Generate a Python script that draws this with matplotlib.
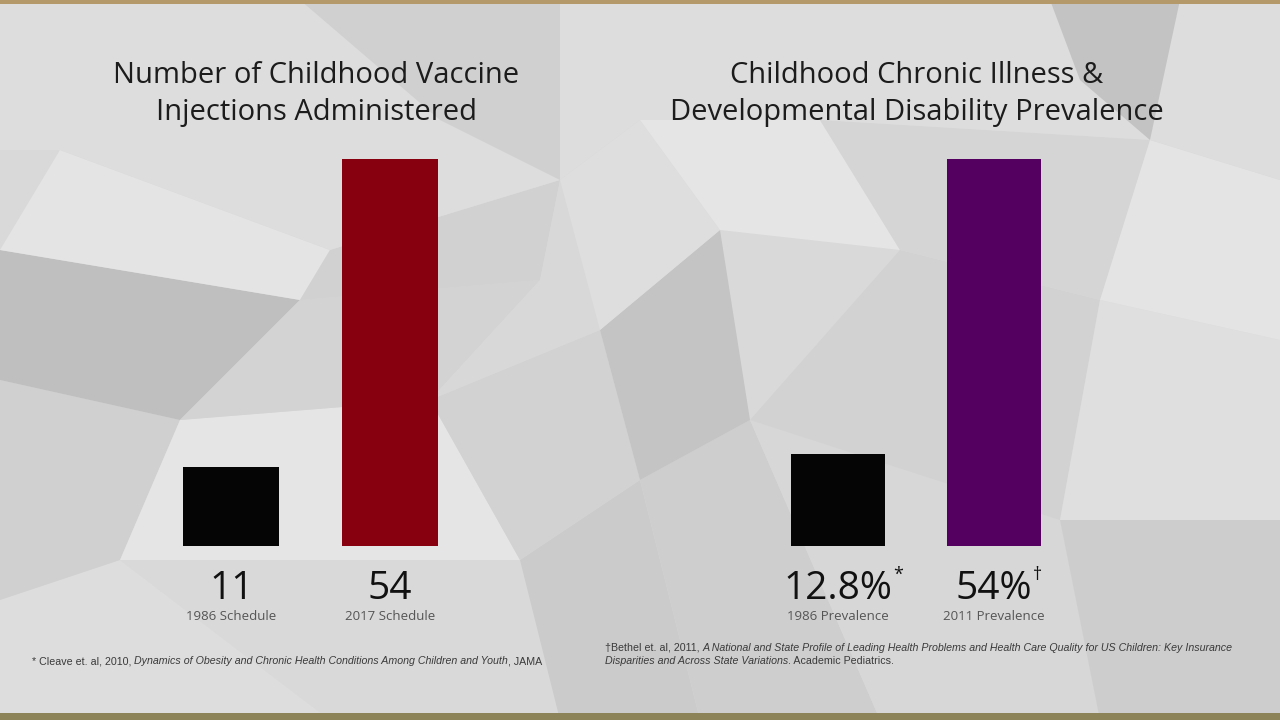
import matplotlib.pyplot as plt
from matplotlib.patches import Polygon, Rectangle

# chart values
vax_labels = ['1986 Schedule', '2017 Schedule']
vax_values = [11, 54]
vax_text = ['11', '54']
vax_colors = ['#050505', '#86000f']

ill_labels = ['1986 Prevalence', '2011 Prevalence']
ill_values = [12.8, 54]
ill_text = ['12.8%', '54%']
ill_marks = ['*', '\u2020']
ill_colors = ['#050505', '#540060']

left_title = 'Number of Childhood Vaccine\nInjections Administered'
right_title = 'Childhood Chronic Illness &\nDevelopmental Disability Prevalence'

note_left = [('* Cleave et. al, 2010, ', 'normal'),
             ('Dynamics of Obesity and Chronic Health Conditions Among Children and Youth', 'italic'),
             (', JAMA', 'normal')]
note_right_1 = [('\u2020Bethel et. al, 2011, ', 'normal'),
                ('A National and State Profile of Leading Health Problems and Health Care Quality for US Children: Key Insurance', 'italic')]
note_right_2 = [('Disparities and Across State Variations', 'italic'),
                ('. Academic Pediatrics.', 'normal')]

W, H = 1280, 720
fig = plt.figure(figsize=(12.8, 7.2), dpi=100)
fig.patch.set_facecolor('#d8d9d8')


def soften(c, k=0.45):
    # pull a backdrop shade toward the base grey
    v = int(c[1:3], 16)
    v = int(round(0xd8 + (v - 0xd8) * k))
    return '#%02x%02x%02x' % (v, v + 1, v)


# low-poly backdrop (decorative)
shards = [
    ([(0, 720), (330, 720), (120, 560), (0, 600)], '#e2e3e2'),
    ([(0, 600), (120, 560), (180, 420), (0, 380)], '#c3c4c3'),
    ([(0, 380), (180, 420), (300, 300), (0, 250)], '#9fa1a0'),
    ([(0, 250), (300, 300), (330, 250), (60, 150)], '#f0f1f0'),
    ([(330, 720), (560, 720), (520, 560), (120, 560)], '#d9dad9'),
    ([(120, 560), (520, 560), (430, 400), (180, 420)], '#f2f3f2'),
    ([(180, 420), (430, 400), (540, 280), (300, 300)], '#cbcccb'),
    ([(300, 300), (540, 280), (560, 180), (330, 250)], '#c6c7c6'),
    ([(560, 720), (700, 720), (640, 480), (520, 560)], '#b9bbba'),
    ([(520, 560), (640, 480), (600, 330), (430, 400)], '#c9cac9'),
    ([(430, 400), (600, 330), (560, 180), (540, 280)], '#d6d7d6'),
    ([(700, 720), (880, 720), (750, 420), (640, 480)], '#c0c1c0'),
    ([(640, 480), (750, 420), (720, 230), (600, 330)], '#a9abaa'),
    ([(600, 330), (720, 230), (640, 120), (560, 180)], '#e4e5e4'),
    ([(880, 720), (1100, 720), (1060, 520), (750, 420)], '#d4d5d4'),
    ([(750, 420), (1060, 520), (1100, 300), (900, 250)], '#c8c9c8'),
    ([(720, 230), (900, 250), (820, 120), (640, 120)], '#f2f3f2'),
    ([(900, 250), (1100, 300), (1150, 140), (820, 120)], '#d0d1d0'),
    ([(1100, 720), (1280, 720), (1280, 520), (1060, 520)], '#bebfbe'),
    ([(1060, 520), (1280, 520), (1280, 340), (1100, 300)], '#e6e7e6'),
    ([(1100, 300), (1280, 340), (1280, 180), (1150, 140)], '#f0f1f0'),
    ([(0, 150), (60, 150), (330, 250), (560, 180), (640, 120), (820, 120),
      (1150, 140), (1280, 180), (1280, 0), (0, 0)], '#e2e3e2'),
    ([(300, 0), (560, 0), (560, 180), (440, 120)], '#c4c5c4'),
    ([(1050, 0), (1180, 0), (1150, 140), (1080, 80)], '#a6a8a7'),
]
for pts, col in shards:
    fig.patches.append(Polygon([(x / W, 1 - y / H) for x, y in pts], closed=True,
                               transform=fig.transFigure, facecolor=soften(col),
                               edgecolor='none', zorder=-5))
fig.patches.append(Rectangle((0, 1 - 4 / H), 1, 4 / H, transform=fig.transFigure,
                             facecolor='#b49a6a', edgecolor='none', zorder=-4))
fig.patches.append(Rectangle((0, 0), 1, 7 / H, transform=fig.transFigure,
                             facecolor='#8c8358', edgecolor='none', zorder=-4))

plt.rcParams['font.family'] = ['Open Sans', 'DejaVu Sans']
ymax = 54
bottom = (H - 546) / H
height = 387 / H


def panel(left_px, width_px, values, colors, texts, labels, marks, title, tcenter):
    ax = fig.add_axes([left_px / W, bottom, width_px / W, height])
    ax.bar(range(len(values)), values, width=0.605, color=colors)
    ax.set_xlim(-0.5, len(values) - 0.5)
    ax.set_ylim(0, ymax)
    ax.axis('off')
    for i, (t, lab) in enumerate(zip(texts, labels)):
        ax.annotate(t, (i, 0), xytext=(0, -43), textcoords='offset pixels',
                    ha='center', va='center', fontsize=28, color='#111111')
        ax.annotate(lab, (i, 0), xytext=(0, -70), textcoords='offset pixels',
                    ha='center', va='center', fontsize=9.5, color='#555555')
    if marks:
        fig.canvas.draw()
        r = fig.canvas.get_renderer()
        for child, m in zip([c for c in ax.texts if c.get_text() in texts], marks):
            bb = child.get_window_extent(r)
            fig.text((bb.x1 + 1) / W, (bb.y1 + 4) / H, m, fontsize=13,
                     color='#111111', ha='left', va='top')
    fig.text(tcenter / W, 1 - 94 / H, title, ha='center', va='center',
             fontsize=21, color='#1c1c1c', linespacing=1.38)
    return ax


panel(152, 317, vax_values, vax_colors, vax_text, vax_labels, None, left_title, 316)
panel(760, 312, ill_values, ill_colors, ill_text, ill_labels, ill_marks, right_title, 917)


def note(x_px, y_px, pieces):
    fig.canvas.draw()
    r = fig.canvas.get_renderer()
    x = x_px
    for s, style in pieces:
        t = fig.text(x / W, 1 - y_px / H, s, fontsize=7.7, style=style,
                     color='#3a3a3a', ha='left', va='center',
                     family=['Liberation Sans', 'DejaVu Sans'])
        x = t.get_window_extent(r).x1


note(32, 661, note_left)
note(605, 648, note_right_1)
note(605, 661, note_right_2)

fig.savefig('out.png', dpi=100)
